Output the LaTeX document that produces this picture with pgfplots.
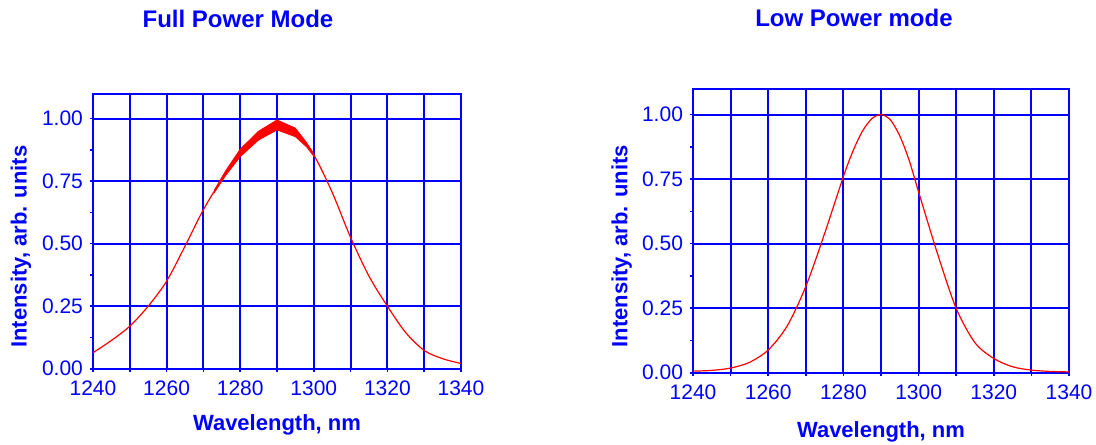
\documentclass[border=0pt]{standalone}
\usepackage{fontspec}
\setmainfont{Liberation Sans}
\usepackage{pgfplots}
\pgfplotsset{compat=1.18}
\definecolor{gridblue}{RGB}{0,0,255}
\definecolor{curvered}{RGB}{255,0,0}

\pgfplotsset{
  specstyle/.style={
    scale only axis,
    xmin=1240, xmax=1340, ymin=0, ymax=1.1,
    xtick={1240,1260,...,1340},
    minor xtick={1250,1270,...,1330},
    ytick={0,0.25,0.5,0.75,1},
    minor ytick={0.125,0.375,0.625,0.875},
    xmajorgrids, xminorgrids, ymajorgrids,
    grid style={gridblue, line width=1pt},
    minor grid style={gridblue, line width=1pt},
    axis line style={gridblue, line width=1pt},
    tick style={gridblue, line width=0.8pt},
    tick align=outside,
    major tick length=1.5pt, minor tick length=1.5pt,
    xtick pos=lower, ytick pos=left,
    /pgf/number format/assume math mode=true,
    ticklabel style={font=\fontsize{10.5}{12}\selectfont, text=gridblue},
    xticklabel style={/pgf/number format/1000 sep={}, yshift=-1pt},
    yticklabel style={/pgf/number format/.cd, fixed, fixed zerofill, precision=2},
    label style={font=\bfseries\fontsize{11}{13}\selectfont, text=gridblue},
    title style={font=\bfseries\fontsize{12}{14}\selectfont, text=gridblue, anchor=center},
    xlabel={Wavelength, nm},
    ylabel={Intensity, arb. units},
  }
}

\begin{document}
\begin{tikzpicture}
\path[use as bounding box] (-46.5pt,-37.65pt) rectangle (501.5pt,184.35pt);

% Full power mode
\begin{axis}[specstyle,
  at={(0pt,0pt)}, anchor=south west,
  width=184pt, height=137.5pt,
  title={Full Power Mode},
  title style={at={(axis description cs:0.394,1.228)}},
  xlabel style={at={(axis description cs:0.5,-0.205)}, anchor=center},
  ylabel style={at={(axis description cs:-0.196,0.444)}, anchor=center},
]
\addplot[curvered, line width=0.6pt, smooth, no markers] coordinates {
  (1240,0.064) (1245,0.113) (1250,0.170) (1255,0.250) (1260,0.350)
  (1265,0.490) (1270,0.636) (1275,0.757) (1280,0.857) (1285,0.930)
  (1290,0.975) (1295,0.945) (1300,0.855) (1305,0.705) (1310,0.525)
  (1315,0.370) (1320,0.250) (1325,0.144) (1330,0.073) (1335,0.040)
  (1340,0.021)
};
% noisy band near the peak
\addplot[fill=curvered, draw=curvered, line width=0.4pt, no markers] coordinates {
  (1273,0.715) (1276,0.790) (1280,0.878) (1285,0.950) (1290,0.995)
  (1295,0.962) (1298,0.905) (1300,0.860)
  (1300,0.850) (1298,0.888) (1295,0.928) (1290,0.955) (1285,0.915)
  (1280,0.848) (1276,0.772) (1273,0.705)
} -- cycle;
\end{axis}

% Low power mode
\begin{axis}[specstyle,
  at={(300pt,-2pt)}, anchor=south west,
  width=188pt, height=142pt,
  title={Low Power mode},
  title style={at={(axis description cs:0.428,1.206)}},
  xlabel style={at={(axis description cs:0.5,-0.208)}, anchor=center},
  ylabel style={at={(axis description cs:-0.19,0.445)}, anchor=center},
]
\addplot[curvered, line width=0.6pt, smooth, no markers] coordinates {
  (1240,0.006) (1245,0.009) (1250,0.018) (1255,0.040) (1260,0.088)
  (1265,0.180) (1270,0.334) (1275,0.539) (1280,0.760) (1282.5,0.857)
  (1285,0.934) (1287.5,0.983) (1290,1.000) (1292.5,0.979) (1295,0.917)
  (1297.5,0.822) (1300,0.700) (1305,0.462) (1310,0.249) (1315,0.116)
  (1320,0.055) (1325,0.023) (1330,0.010) (1335,0.005) (1340,0.003)
};
\end{axis}
\end{tikzpicture}
\end{document}
